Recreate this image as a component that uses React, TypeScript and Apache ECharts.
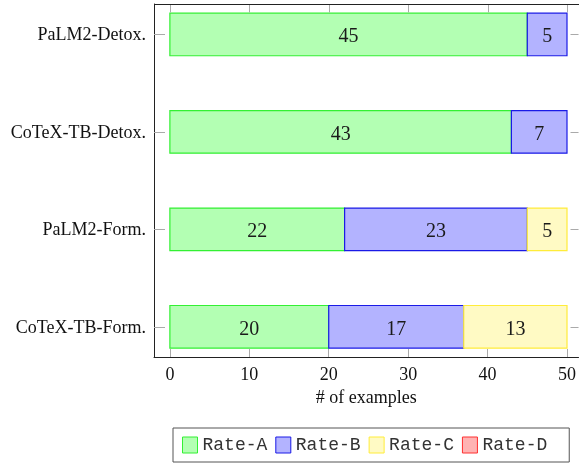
import React, { useEffect, useRef } from "react";
import * as echarts from "echarts";

const categories = ["CoTeX-TB-Form.", "PaLM2-Form.", "CoTeX-TB-Detox.", "PaLM2-Detox."];
const seriesNames = ["Rate-A", "Rate-B", "Rate-C", "Rate-D"];
const rateA = [20, 22, 43, 45];
const rateB = [17, 23, 7, 5];
const rateC = [13, 5, 0, 0];
const rateD = [0, 0, 0, 0];
const xTicks = [0, 10, 20, 30, 40, 50];
const yTicks = [0, 1, 2, 3];

const fills = ["#b3ffb3", "#b3b3ff", "#fffac4", "#ffb3b3"];
const strokes = ["#33f033", "#1a1ae6", "#ffec3a", "#ff3030"];
const BAR_H = 0.437;
const X_MIN = -2;
const X_MAX = 51.45;
const Y_MIN = -0.31;
const Y_MAX = 3.3125;
const SERIF = "'Liberation Serif', 'Times New Roman', serif";
const MONO = "'Liberation Mono', 'Courier New', monospace";

const mkLine = () => ({ show: true, onZero: false, lineStyle: { color: "#222", width: 1 } });

export default function App() {
  const ref = useRef<HTMLDivElement>(null);
  useEffect(() => {
    if (!ref.current) return;
    const chart = echarts.init(ref.current, undefined, { renderer: "svg" });
    const all = [rateA, rateB, rateC, rateD];
    const series: any[] = all.map((vals, si) => ({
      type: "custom",
      name: seriesNames[si],
      xAxisIndex: 0,
      yAxisIndex: 0,
      clip: false,
      itemStyle: { color: fills[si], borderColor: strokes[si], borderWidth: 1 },
      encode: { x: [0, 1], y: 2 },
      data: vals.map((v, ci) => {
        const start = all.slice(0, si).reduce((s, arr) => s + arr[ci], 0);
        return [start, start + v, ci, v];
      }),
      renderItem: (params: any, api: any) => {
        const v = api.value(3);
        if (!v) return null;
        const p0 = api.coord([api.value(0), api.value(2)]);
        const p1 = api.coord([api.value(1), api.value(2)]);
        const h = api.size([0, BAR_H])[1];
        return {
          type: "group",
          children: [
            {
              type: "rect",
              shape: { x: p0[0], y: p0[1] - h / 2, width: p1[0] - p0[0], height: h },
              style: { fill: fills[si], stroke: strokes[si], lineWidth: 1.2 },
            },
            {
              type: "text",
              style: {
                text: String(v),
                x: (p0[0] + p1[0]) / 2,
                y: p0[1] + 1,
                align: "center",
                verticalAlign: "middle",
                fontFamily: SERIF,
                fontSize: 20,
                fill: "#1a1a1a",
              },
            },
          ],
        };
      },
    }));

    chart.setOption({
      animation: false,
      grid: {
        left: 154,
        top: 4,
        bottom: 107,
        right: 0,
        show: false,
        containLabel: false,
      },
      legend: {
        left: 173,
        top: 428,
        orient: "horizontal",
        itemWidth: 15,
        itemHeight: 16,
        itemGap: 8,
        padding: [8, 22, 8, 9],
        borderColor: "#555",
        borderWidth: 1,
        borderRadius: 0,
        selectedMode: false,
        textStyle: { fontFamily: MONO, fontSize: 18, color: "#333" },
        data: seriesNames.map((n, i) => ({
          name: n,
          icon: "rect",
          itemStyle: { color: fills[i], borderColor: strokes[i], borderWidth: 1 },
        })),
      },
      xAxis: [
        {
          type: "value",
          min: X_MIN,
          max: X_MAX,
          position: "bottom",
          axisLine: mkLine(),
          axisTick: { show: true, inside: true, length: 8, lineStyle: { color: "#aaa" }, customValues: xTicks },
          axisLabel: { customValues: xTicks, fontFamily: SERIF, fontSize: 18, color: "#111", margin: 8 },
          splitLine: { show: false },
          name: "# of examples",
          nameLocation: "middle",
          nameGap: 31,
          nameTextStyle: { fontFamily: SERIF, fontSize: 18, color: "#111" },
        },
      ],
      yAxis: [
        {
          type: "value",
          min: Y_MIN,
          max: Y_MAX,
          position: "left",
          axisLine: mkLine(),
          axisTick: { show: true, inside: true, length: 11, lineStyle: { color: "#aaa" }, customValues: yTicks },
          axisLabel: {
            customValues: yTicks,
            formatter: (v: number) => categories[Math.round(v)] ?? "",
            fontFamily: SERIF,
            fontSize: 18,
            color: "#111",
            margin: 8,
          },
          splitLine: { show: false },
        },
        {
          type: "value",
          min: Y_MIN,
          max: Y_MAX,
          position: "right",
          axisLine: { show: false, onZero: false },
          axisTick: { show: true, inside: true, length: 8, lineStyle: { color: "#aaa" }, customValues: yTicks },
          axisLabel: { show: false, customValues: yTicks },
          splitLine: { show: false },
        },
      ],
      series,
    });

    // Top frame line and top ticks, positioned through the axis scales
    const a = chart.convertToPixel({ xAxisIndex: 0, yAxisIndex: 0 }, [X_MIN, Y_MAX]) as number[];
    const b = chart.convertToPixel({ xAxisIndex: 0, yAxisIndex: 0 }, [X_MAX, Y_MAX]) as number[];
    const topY = Math.round(a[1]) + 0.5;
    const elements: any[] = [
      {
        type: "line",
        z: 100,
        shape: { x1: a[0], y1: topY, x2: b[0] + 2, y2: topY },
        style: { stroke: "#222", lineWidth: 1 },
      },
    ];
    xTicks.forEach((t) => {
      const p = chart.convertToPixel({ xAxisIndex: 0, yAxisIndex: 0 }, [t, Y_MAX]) as number[];
      const x = Math.round(p[0]) + 0.5;
      elements.push({
        type: "line",
        z: 99,
        shape: { x1: x, y1: topY, x2: x, y2: topY + 8 },
        style: { stroke: "#aaa", lineWidth: 1 },
      });
    });
    chart.setOption({ graphic: { elements } });

    return () => chart.dispose();
  }, []);
  return <div ref={ref} style={{ position: "fixed", left: 0, top: 0, width: 579, height: 464 }} />;
}
